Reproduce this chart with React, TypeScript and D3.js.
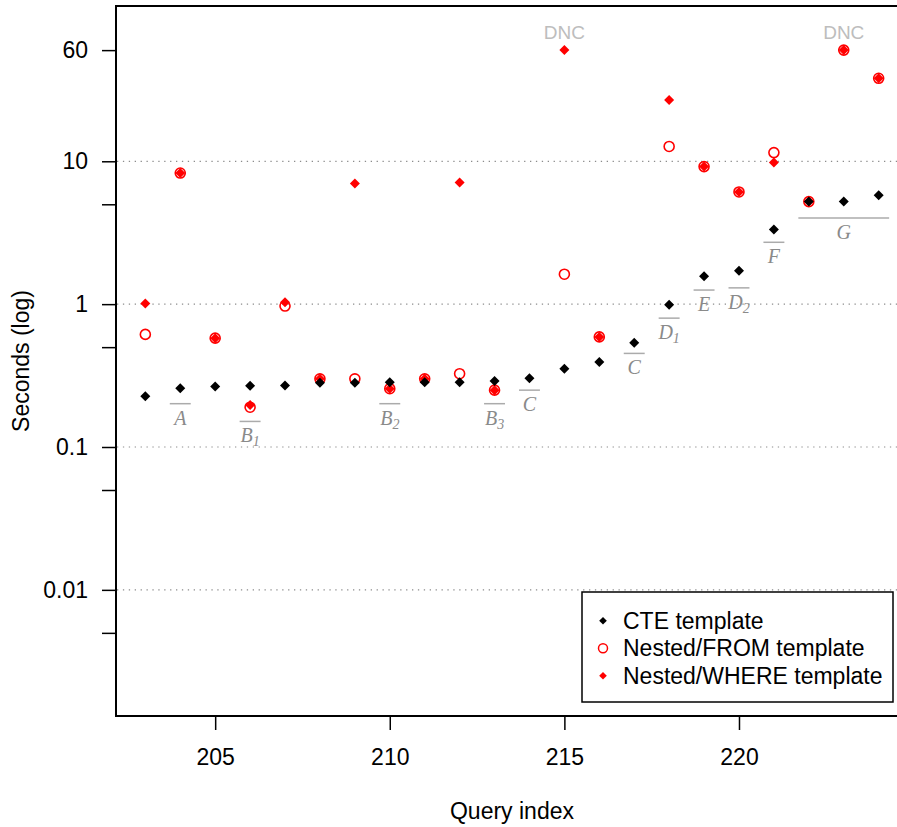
import * as React from 'react';
import * as d3 from 'd3';

// query index on the x axis
const queryIds = [203, 204, 205, 206, 207, 208, 209, 210, 211, 212, 213, 214, 215, 216, 217, 218, 219, 220, 221, 222, 223, 224];

// seconds per template (null = not plotted)
const cteTimes = [0.227, 0.258, 0.265, 0.268, 0.27, 0.282, 0.282, 0.284, 0.284, 0.284, 0.29, 0.303, 0.353, 0.393, 0.537, 0.99, 1.565, 1.71, 3.33, 5.22, 5.22, 5.78];
const fromTimes = [0.614, 8.27, 0.578, 0.19, 0.97, 0.3, 0.3, 0.256, 0.3, 0.326, 0.25, null, 1.62, 0.59, null, 12.7, 9.18, 6.1, 11.5, 5.22, 60, 38.1];
const whereTimes = [1.01, 8.27, 0.578, 0.197, 1.03, 0.3, 6.98, 0.256, 0.3, 7.1, 0.25, null, 60, 0.59, null, 26.9, 9.18, 6.1, 9.8, 5.22, 60, 38.1];

// "did not complete" markers
const dncIds = [215, 223];
const dncLevel = 60;

// y axis ticks
const yLabelTicks = [0.01, 0.1, 1, 10, 60];
const yMinorTicks = [0.005, 0.05, 0.5, 5];
const yGridLines = [0.01, 0.1, 1, 10];
const xTicks = [205, 210, 215, 220];

// group annotations under the CTE points
const annoLetters = ['A', 'B', 'B', 'B', 'C', 'C', 'D', 'E', 'D', 'F', 'G'];
const annoSubs = ['', '1', '2', '3', '', '', '1', '', '2', '', ''];
const annoFrom = [204, 206, 210, 213, 214, 217, 218, 219, 220, 221, 222];
const annoTo = [204, 206, 210, 213, 214, 217, 218, 219, 220, 221, 224];
const annoLevel = [0.201, 0.151, 0.201, 0.201, 0.25, 0.452, 0.798, 1.255, 1.3, 2.71, 4.01];

const legendLabels = ['CTE template', 'Nested/FROM template', 'Nested/WHERE template'];

const width = 897;
const height = 827;
const box = { left: 116, top: 6, right: 908, bottom: 716 };
const font = '"Liberation Sans", Arial, sans-serif';
const serif = '"Liberation Serif", "Times New Roman", serif';
const fontSize = 23;

const diamond = (s: number) => `M0,${-s}L${s},0L0,${s}L${-s},0Z`;

export default function App() {
  const ref = React.useRef<SVGSVGElement>(null);

  React.useEffect(() => {
    const svg = d3.select(ref.current);
    svg.selectAll('*').remove();

    const xScale = d3.scaleLinear().domain([202.16, 224.84]).range([box.left, box.right]);
    const yScale = d3.scaleLog().domain([Math.pow(10, -2.883), Math.pow(10, 2.087)]).range([box.bottom, box.top]);

    // grid lines
    svg.append('g').selectAll('line')
      .data(yGridLines)
      .enter().append('line')
      .attr('x1', box.left + 1)
      .attr('x2', box.right)
      .attr('y1', d => yScale(d))
      .attr('y2', d => yScale(d))
      .attr('stroke', '#8c8c8c')
      .attr('stroke-width', 1.2)
      .attr('stroke-dasharray', '1.3,4.6');

    // y axis
    const yAxis = d3.axisLeft(yScale)
      .tickValues([...yLabelTicks, ...yMinorTicks])
      .tickFormat(d => (yLabelTicks.includes(+d) ? String(d) : ''))
      .tickSize(14)
      .tickSizeOuter(0)
      .tickPadding(14);

    const yG = svg.append('g')
      .attr('transform', `translate(${box.left},0)`)
      .call(yAxis);
    yG.select('.domain').remove();
    yG.selectAll('line').attr('stroke', '#000').attr('stroke-width', 1.5);
    yG.selectAll('text').attr('font-family', font).attr('font-size', fontSize).attr('fill', '#000');

    // x axis
    const xAxis = d3.axisBottom(xScale)
      .tickValues(xTicks)
      .tickFormat(d3.format('d'))
      .tickSize(14)
      .tickSizeOuter(0)
      .tickPadding(19);

    const xG = svg.append('g')
      .attr('transform', `translate(0,${box.bottom})`)
      .call(xAxis);
    xG.select('.domain').remove();
    xG.selectAll('line').attr('stroke', '#000').attr('stroke-width', 1.5);
    xG.selectAll('text').attr('font-family', font).attr('font-size', fontSize).attr('fill', '#000');

    // plot frame (right side falls outside the picture)
    svg.append('path')
      .attr('d', `M${box.right},${box.top}H${box.left}V${box.bottom}H${box.right}`)
      .attr('fill', 'none')
      .attr('stroke', '#000')
      .attr('stroke-width', 2);

    // axis titles
    svg.append('text')
      .attr('x', (box.left + box.right) / 2)
      .attr('y', 819)
      .attr('text-anchor', 'middle')
      .attr('font-family', font)
      .attr('font-size', fontSize)
      .text('Query index');

    svg.append('text')
      .attr('transform', `translate(29,${(box.top + box.bottom) / 2}) rotate(-90)`)
      .attr('text-anchor', 'middle')
      .attr('font-family', font)
      .attr('font-size', fontSize)
      .text('Seconds (log)');

    // annotations
    const anno = svg.append('g').selectAll('g')
      .data(annoLetters.map((l, i) => i))
      .enter().append('g');

    anno.append('line')
      .attr('x1', i => xScale(annoFrom[i] - 0.3))
      .attr('x2', i => xScale(annoTo[i] + 0.3))
      .attr('y1', i => yScale(annoLevel[i]))
      .attr('y2', i => yScale(annoLevel[i]))
      .attr('stroke', '#ababab')
      .attr('stroke-width', 1.5);

    const annoText = anno.append('text')
      .attr('x', i => xScale((annoFrom[i] + annoTo[i]) / 2))
      .attr('y', i => yScale(annoLevel[i]) + 21)
      .attr('text-anchor', 'middle')
      .attr('font-family', serif)
      .attr('font-style', 'italic')
      .attr('font-size', 20)
      .attr('fill', '#8a8a8a');
    annoText.append('tspan').text(i => annoLetters[i]);
    annoText.filter(i => annoSubs[i] !== '')
      .append('tspan')
      .attr('font-size', 14)
      .attr('dy', 4)
      .text(i => annoSubs[i]);

    // DNC labels
    svg.append('g').selectAll('text')
      .data(dncIds)
      .enter().append('text')
      .attr('x', d => xScale(d))
      .attr('y', yScale(dncLevel) - 11)
      .attr('text-anchor', 'middle')
      .attr('font-family', font)
      .attr('font-size', 19)
      .attr('fill', '#bdbdbd')
      .text('DNC');

    const points = (vals: (number | null)[]) =>
      queryIds.map((q, i) => ({ q, v: vals[i] })).filter(d => d.v !== null) as { q: number; v: number }[];

    // Nested/FROM: open red circles
    svg.append('g').selectAll('circle')
      .data(points(fromTimes))
      .enter().append('circle')
      .attr('cx', d => xScale(d.q))
      .attr('cy', d => yScale(d.v))
      .attr('r', 5)
      .attr('fill', 'none')
      .attr('stroke', '#ff0000')
      .attr('stroke-width', 1.6);

    // Nested/WHERE: red diamonds
    svg.append('g').selectAll('path')
      .data(points(whereTimes))
      .enter().append('path')
      .attr('transform', d => `translate(${xScale(d.q)},${yScale(d.v)})`)
      .attr('d', diamond(5))
      .attr('fill', '#ff0000');

    // CTE: black diamonds
    svg.append('g').selectAll('path')
      .data(points(cteTimes))
      .enter().append('path')
      .attr('transform', d => `translate(${xScale(d.q)},${yScale(d.v)})`)
      .attr('d', diamond(5))
      .attr('fill', '#000');

    // legend
    const legend = svg.append('g').attr('transform', 'translate(582,592)');
    legend.append('rect')
      .attr('width', 311)
      .attr('height', 110)
      .attr('fill', 'white')
      .attr('stroke', '#000')
      .attr('stroke-width', 1.5);

    const entry = legend.selectAll('g.entry')
      .data(legendLabels)
      .enter().append('g')
      .attr('class', 'entry')
      .attr('transform', (d, i) => `translate(0,${28.7 + i * 27.5})`);

    entry.filter((d, i) => i !== 1).append('path')
      .attr('transform', 'translate(21,0)')
      .attr('d', diamond(3.8))
      .attr('fill', (d, i) => (i === 0 ? '#000' : '#ff0000'));
    entry.filter((d, i) => i === 1).append('circle')
      .attr('cx', 21)
      .attr('r', 4.5)
      .attr('fill', 'none')
      .attr('stroke', '#ff0000')
      .attr('stroke-width', 1.5);

    entry.append('text')
      .attr('x', 41)
      .attr('dy', '0.35em')
      .attr('font-family', font)
      .attr('font-size', fontSize)
      .text(d => d);
  }, []);

  return (
    <svg
      ref={ref}
      width={width}
      height={height}
      style={{ position: 'absolute', left: 0, top: 0, display: 'block', background: 'white', overflow: 'hidden' }}
    />
  );
}
